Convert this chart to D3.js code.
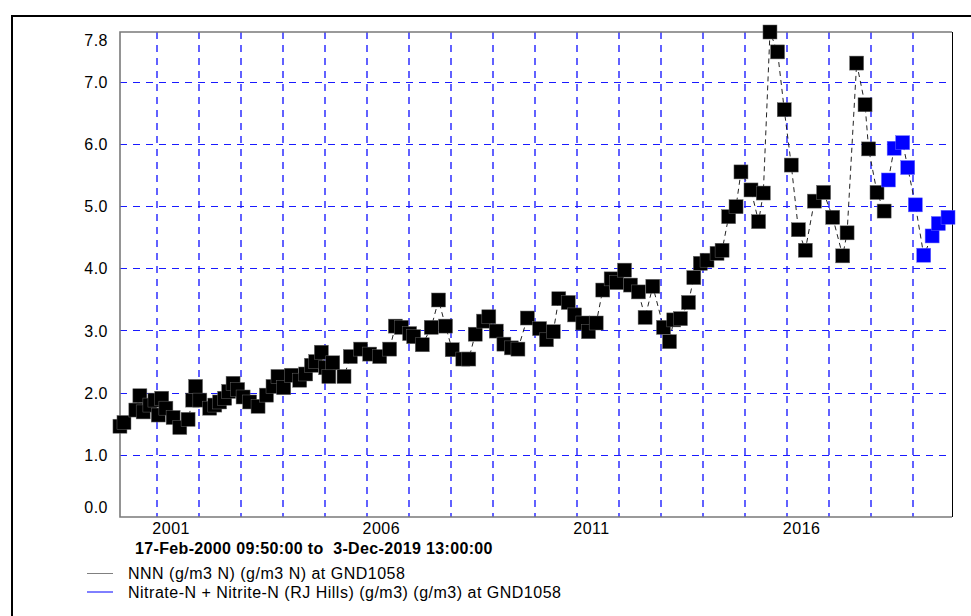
<!DOCTYPE html>
<html>
<head>
<meta charset="utf-8">
<script src="https://cdn.jsdelivr.net/npm/d3@7"></script>
<style>
  body { margin: 0; background: #fff; }
  text { font-family: "Liberation Sans", Arial, sans-serif; fill: #000; }
</style>
</head>
<body>
<div id="chart"></div>
<script>
const SVGwidth = 971;
const SVGheight = 616;
const startTime = new Date(2000, 1, 17, 9, 50);
const endTime = new Date(2019, 11, 3, 13, 0);

// NNN series (black squares)
const nnnDates = [
  "2000-02-17","2000-03-23","2000-07-04","2000-08-08","2000-09-06","2000-11-03","2000-12-17",
  "2001-01-15","2001-02-14","2001-03-22","2001-05-24","2001-07-21","2001-10-01","2001-11-10","2001-12-05",
  "2002-01-11","2002-04-07","2002-05-21","2002-07-02","2002-08-15","2002-09-19","2002-10-27","2002-12-06",
  "2003-01-22","2003-03-20","2003-06-01","2003-08-13","2003-10-09","2003-11-21",
  "2004-01-10","2004-03-17","2004-05-28","2004-07-19","2004-09-07","2004-10-14","2004-12-02",
  "2005-01-09","2005-02-05","2005-03-11","2005-06-17","2005-08-11","2005-11-08",
  "2006-01-26","2006-04-23","2006-07-18","2006-09-06","2006-10-28",
  "2007-01-08","2007-02-12","2007-04-28","2007-07-15","2007-09-16","2007-11-16",
  "2008-01-13","2008-04-14","2008-06-05","2008-07-31","2008-10-11","2008-11-26",
  "2009-01-30","2009-04-06","2009-06-10","2009-08-06","2009-10-27",
  "2010-02-10","2010-04-11","2010-06-09","2010-07-27","2010-10-17","2010-12-11",
  "2011-02-21","2011-04-11","2011-06-17","2011-08-13","2011-10-25","2011-12-12",
  "2012-02-18","2012-04-10","2012-06-18","2012-08-15","2012-10-21",
  "2013-01-22","2013-03-15","2013-04-21","2013-06-18","2013-08-27","2013-10-12","2013-12-08",
  "2014-02-04","2014-05-02","2014-06-15","2014-08-11","2014-10-14","2014-11-26",
  "2015-02-21","2015-04-28","2015-06-08","2015-08-05","2015-10-10","2015-12-07",
  "2016-02-06","2016-04-08","2016-06-07","2016-08-25","2016-11-13",
  "2017-01-31","2017-04-28","2017-06-05","2017-08-27","2017-11-08","2017-12-09",
  "2018-02-20","2018-04-23"
];
const nnnValues = [
  1.46,1.52,1.72,1.95,1.69,1.80,1.88,
  1.64,1.91,1.75,1.60,1.44,1.57,1.88,2.10,
  1.88,1.75,1.80,1.85,1.91,2.02,2.15,2.05,
  1.93,1.85,1.78,1.96,2.10,2.26,
  2.08,2.28,2.20,2.30,2.44,2.50,2.65,
  2.40,2.26,2.48,2.26,2.58,2.70,
  2.62,2.58,2.70,3.07,3.05,
  2.95,2.90,2.77,3.05,3.49,3.07,
  2.69,2.54,2.54,2.94,3.15,3.22,
  2.99,2.78,2.72,2.70,3.20,
  3.03,2.85,2.98,3.51,3.45,3.25,
  3.12,2.98,3.12,3.65,3.83,3.77,
  3.97,3.73,3.62,3.21,3.71,
  3.05,2.82,3.17,3.19,3.45,3.85,4.08,
  4.13,4.24,4.29,4.83,4.99,5.55,
  5.26,4.75,5.21,7.80,7.48,6.55,
  5.66,4.62,4.29,5.08,5.22,
  4.82,4.20,4.57,7.30,6.63,5.92,
  5.22,4.92
];

// Nitrate-N + Nitrite-N (RJ Hills) series (blue squares)
const rjDates = [
  "2018-05-30","2018-07-19","2018-10-01","2018-11-14",
  "2019-01-19","2019-04-02","2019-06-14","2019-08-07","2019-10-30"
];
const rjValues = [5.42,5.93,6.02,5.62,5.02,4.21,4.52,4.72,4.82];

const yTicks = [0, 1, 2, 3, 4, 5, 6, 7, 7.8];
const xLabelYears = [2001, 2006, 2011, 2016];
const subtitle = "17-Feb-2000 09:50:00 to  3-Dec-2019 13:00:00";
const legendLabels = [
  "NNN (g/m3 N) (g/m3 N) at GND1058",
  "Nitrate-N + Nitrite-N (RJ Hills) (g/m3) (g/m3) at GND1058"
];
const legendColors = ["#808080", "#0000ff"];

const parseDate = d3.timeParse("%Y-%m-%d");
const nnn = nnnDates.map((d, i) => ({date: parseDate(d), value: nnnValues[i]}));
const rj = rjDates.map((d, i) => ({date: parseDate(d), value: rjValues[i]}));

const plotLeft = 120, plotRight = 952, plotTop = 32, plotBottom = 517;

const x = d3.scaleTime().domain([startTime, endTime]).range([plotLeft, plotRight]);
const y = d3.scaleLinear().domain([0, 7.8]).range([plotBottom, plotTop]);

const svg = d3.select('#chart').append('svg')
  .attr('width', SVGwidth)
  .attr('height', SVGheight);

// outer frame
svg.append('rect')
  .attr('x', 12).attr('y', 16)
  .attr('width', 1000).attr('height', 700)
  .attr('fill', 'none')
  .attr('stroke', '#000')
  .attr('stroke-width', 2);

// grid, vertical lines on each new year
const years = d3.timeYear.range(d3.timeYear.ceil(startTime), endTime);
svg.append('g')
  .selectAll('line')
  .data(years)
  .join('line')
    .attr('x1', d => Math.round(x(d)))
    .attr('x2', d => Math.round(x(d)))
    .attr('y1', plotTop)
    .attr('y2', plotBottom)
    .attr('stroke', '#2020ff')
    .attr('stroke-width', 1.4)
    .attr('stroke-dasharray', '7,6');

svg.append('g')
  .attr('shape-rendering', 'crispEdges')
  .selectAll('line')
  .data(yTicks.filter(v => v > 0 && v < 7.8))
  .join('line')
    .attr('x1', plotLeft)
    .attr('x2', plotRight)
    .attr('y1', d => Math.round(y(d)) + 0.5)
    .attr('y2', d => Math.round(y(d)) + 0.5)
    .attr('stroke', '#1a1aff')
    .attr('stroke-dasharray', '7,6');

// plot frame: gray left/top/bottom, black right
svg.append('path')
  .attr('d', `M${plotRight},${plotTop}H${plotLeft}V${plotBottom}H${plotRight}`)
  .attr('fill', 'none')
  .attr('stroke', '#7a7a7a')
  .attr('stroke-width', 1.6);
svg.append('line')
  .attr('x1', plotRight + 0.5).attr('x2', plotRight + 0.5)
  .attr('y1', plotTop).attr('y2', plotBottom)
  .attr('stroke', '#000');

// y axis labels
const yAxis = svg.append('g')
  .attr('transform', `translate(${plotLeft},0)`)
  .call(d3.axisLeft(y).tickValues(yTicks).tickFormat(d3.format('.1f')).tickSize(0).tickPadding(12));
yAxis.select('.domain').remove();
yAxis.selectAll('text')
  .attr('font-size', 16)
  .attr('letter-spacing', 0.5)
  .attr('font-family', '"Liberation Sans", Arial, sans-serif')
  .attr('dy', d => d === 0 ? '-0.3em' : d === 7.8 ? '0.85em' : '0.35em');

// x axis labels
const xAxis = svg.append('g')
  .attr('transform', `translate(0,${plotBottom})`)
  .call(d3.axisBottom(x)
    .tickValues(xLabelYears.map(yr => new Date(yr, 0, 1)))
    .tickFormat(d3.timeFormat('%Y'))
    .tickSize(0).tickPadding(6));
xAxis.select('.domain').remove();
xAxis.selectAll('text')
  .attr('font-size', 16)
  .attr('letter-spacing', 0.5)
  .attr('font-family', '"Liberation Sans", Arial, sans-serif')
  .attr('dx', 14);

// dashed connecting lines
const line = d3.line().x(d => x(d.date)).y(d => y(d.value));
[nnn, rj].forEach(series => {
  svg.append('path')
    .datum(series)
    .attr('d', line)
    .attr('fill', 'none')
    .attr('stroke', '#222')
    .attr('stroke-width', 1)
    .attr('stroke-dasharray', '5,4');
});

// markers
const size = 14;
svg.append('g')
  .selectAll('rect')
  .data(nnn)
  .join('rect')
    .attr('x', d => x(d.date) - size / 2)
    .attr('y', d => y(d.value) - size / 2)
    .attr('width', size)
    .attr('height', size)
    .attr('fill', '#000')
    .attr('stroke', '#666')
    .attr('stroke-width', 0.5);
svg.append('g')
  .selectAll('rect')
  .data(rj)
  .join('rect')
    .attr('x', d => x(d.date) - size / 2)
    .attr('y', d => y(d.value) - size / 2)
    .attr('width', size)
    .attr('height', size)
    .attr('fill', '#0000ff')
    .attr('stroke', '#6666ff')
    .attr('stroke-width', 0.5);

// subtitle
svg.append('text')
  .attr('x', 135)
  .attr('y', 554)
  .attr('font-size', 16)
  .attr('font-weight', 'bold')
  .attr('letter-spacing', 0.35)
  .style('white-space', 'pre')
  .text(subtitle);

// legend
legendLabels.forEach((label, i) => {
  const ly = 573.5 + i * 18.5;
  svg.append('line')
    .attr('x1', 87).attr('x2', 113)
    .attr('y1', ly).attr('y2', ly)
    .attr('stroke', legendColors[i])
    .attr('stroke-width', 1);
  svg.append('text')
    .attr('x', 128)
    .attr('y', ly + 5.5)
    .attr('font-size', 16)
    .attr('letter-spacing', 0.5)
    .text(label);
});
</script>
</body>
</html>
